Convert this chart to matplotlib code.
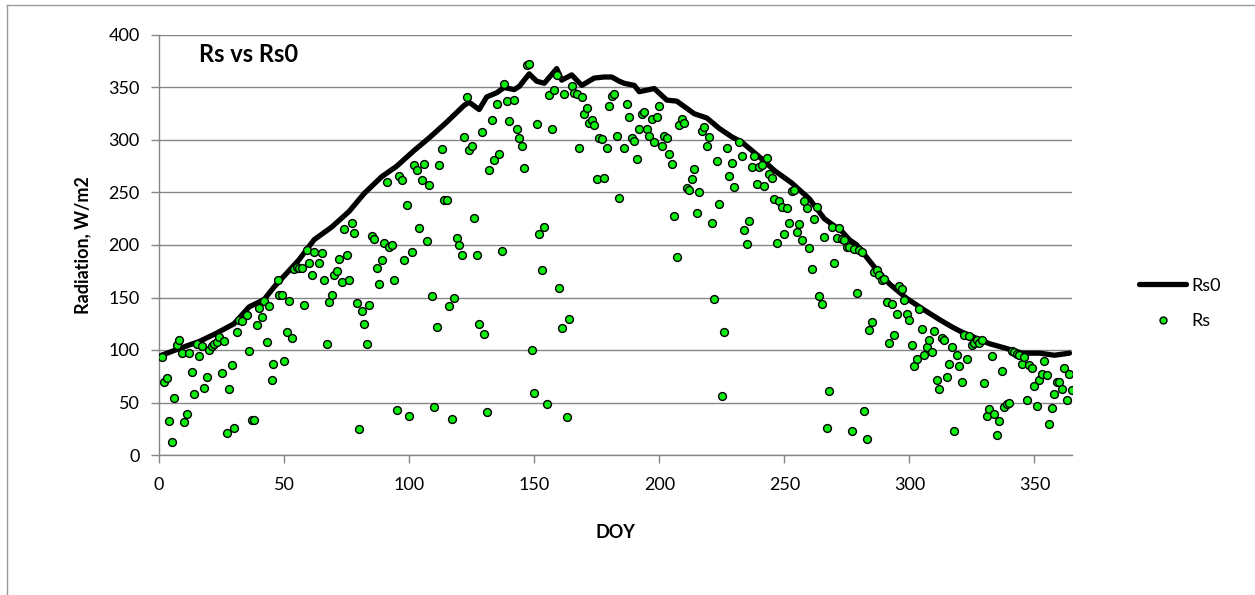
import matplotlib
matplotlib.use('Agg')
import matplotlib.pyplot as plt
from matplotlib.lines import Line2D
import numpy as np

plt.rcParams['font.family'] = ['Lato', 'DejaVu Sans']

# ── Rs0 (clear-sky radiation) read at nodes along the curve ──
rs0_doy = [1, 10, 16, 23, 30, 36, 42, 46, 56, 62, 69, 76, 82, 89, 95, 102, 108, 115,
           122, 124, 128, 131, 135, 138, 142, 144, 148, 151, 154, 159, 161, 165, 169,
           174, 178, 181, 184, 186, 190, 192, 198, 203, 207, 214, 219, 224, 229, 233,
           240, 246, 253, 260, 266, 273, 276, 279, 286, 292, 299, 306, 312, 317, 321,
           325, 332, 338, 345, 352, 358, 364]
rs0_val = [95, 103, 108, 116, 125, 141, 148, 160, 186, 205, 217, 232, 249, 265, 275, 290, 302, 317,
           333, 336, 329, 341, 345, 350, 348, 351, 363, 356, 354, 368, 357, 362, 352,
           359, 360, 360, 356, 354, 352, 346, 349, 338, 337, 325, 321, 311, 303, 298,
           284, 271, 259, 244, 225, 213, 205, 200, 179, 163, 149, 138, 129, 122, 117,
           113, 106, 102, 97, 97, 95, 97]

# ── Rs (measured radiation) ──
rs_doy = [1, 2, 3, 4, 5, 6, 7, 8, 9, 10, 11, 12, 13, 14, 15, 16, 17, 18, 19, 20,
          21, 22, 23, 24, 25, 26, 27, 28, 29, 30, 31, 32, 33, 35, 36, 37, 38, 39, 40, 41,
          42, 43, 44, 45, 45.5, 47.5, 48, 49, 50, 51, 52, 53, 54, 55, 56, 57, 58, 59, 60, 61,
          62, 64, 65, 66, 67, 68, 69, 70, 71, 72, 73, 74, 75, 76, 77, 78, 79, 80, 81, 82,
          83, 84, 85, 86, 87, 88, 89, 90, 91, 92, 93, 94, 95, 96, 97, 98, 99, 100, 101, 102,
          103, 104, 105, 106, 107, 108, 109, 110, 111, 112, 113, 114, 115, 116, 117, 118, 119, 120, 121, 122,
          123, 124, 125, 126, 127, 128, 129, 130, 131, 132, 133, 134, 135, 136, 137, 138, 139, 140, 142, 143,
          144, 145, 146, 147, 148, 149, 150, 151, 152, 153, 154, 155, 156, 157, 158, 159, 160, 161, 162, 163,
          164, 165, 166, 167, 168, 169, 170, 171, 172, 173, 174, 175, 176, 177, 178, 179, 180, 181, 182, 183,
          184, 186, 187, 188, 189, 190, 191, 192, 193, 194, 195, 196, 197, 198, 199, 200, 201, 202, 203, 204,
          205, 206, 207, 208, 209, 210, 211, 212, 213, 214, 215, 216, 217, 218, 219, 220, 221, 222, 223, 224,
          225, 226, 227, 228, 229, 230, 232, 233, 234, 235, 236, 237, 238, 239, 240, 241, 242, 243, 244, 245,
          246, 247, 248, 249, 250, 251, 252, 253, 254, 255, 256, 257, 258, 259, 260, 261, 262, 263, 264, 265,
          266, 267, 268, 269, 270, 271, 272, 273, 274, 275, 276, 277, 278, 279, 280, 281, 282, 283, 284, 285,
          286, 287, 288, 289, 290, 291, 292, 293, 294, 295, 296, 297, 298, 299, 300, 301, 302, 303, 304, 305,
          306, 307, 308, 309, 310, 311, 312, 313, 314, 315, 316, 317, 318, 319, 320, 321, 322, 323, 324, 325,
          326, 327, 328, 329, 330, 331, 332, 333, 334, 335, 336, 337, 338, 339, 340, 341, 342, 343, 344, 345,
          346, 347, 348, 349, 350, 351, 352, 353, 354, 355, 356, 357, 358, 359, 360, 361, 362, 363, 364, 365]
rs_val = [93, 70, 73, 32, 12, 54, 105, 110, 97, 31, 39, 97, 79, 58, 106, 94, 104, 64, 74, 100,
          104, 106, 108, 112, 78, 109, 21, 63, 86, 26, 117, 129, 128, 133, 99, 33, 33, 124, 140, 131,
          147, 108, 142, 71, 87, 167, 152, 152, 90, 117, 147, 111, 177, 179, 178, 178, 143, 195, 183, 171,
          193, 183, 192, 167, 106, 146, 152, 171, 175, 187, 165, 215, 190, 167, 221, 211, 145, 25, 137, 125,
          106, 143, 209, 206, 178, 163, 186, 202, 260, 198, 200, 167, 43, 266, 262, 186, 238, 37, 193, 276,
          271, 216, 262, 277, 204, 257, 151, 46, 122, 276, 291, 243, 243, 142, 34, 150, 207, 200, 190, 303,
          341, 290, 294, 226, 190, 125, 308, 115, 41, 271, 319, 281, 334, 287, 194, 353, 337, 318, 338, 310,
          302, 294, 273, 371, 372, 100, 59, 315, 210, 176, 217, 49, 343, 310, 348, 362, 159, 121, 344, 36,
          130, 351, 345, 344, 292, 341, 325, 330, 316, 319, 314, 263, 302, 301, 264, 292, 332, 342, 344, 304,
          245, 292, 334, 322, 302, 299, 282, 310, 325, 327, 310, 304, 320, 298, 322, 332, 294, 304, 302, 287,
          277, 228, 189, 314, 320, 316, 254, 252, 263, 272, 230, 250, 309, 312, 294, 303, 221, 149, 280, 239,
          56, 117, 292, 266, 278, 255, 298, 285, 214, 201, 223, 274, 285, 258, 274, 276, 256, 283, 268, 264,
          244, 202, 242, 236, 210, 235, 221, 251, 252, 212, 220, 205, 242, 235, 197, 177, 225, 236, 151, 144,
          208, 26, 61, 217, 183, 207, 216, 206, 205, 198, 198, 23, 196, 154, 195, 193, 42, 15, 119, 127,
          174, 176, 171, 167, 168, 146, 107, 144, 114, 134, 161, 158, 148, 134, 129, 105, 85, 91, 139, 120,
          95, 103, 110, 98, 118, 71, 63, 111, 110, 74, 87, 103, 23, 95, 85, 70, 114, 91, 113, 105,
          107, 110, 107, 110, 69, 37, 44, 94, 39, 19, 32, 80, 46, 49, 50, 99, 98, 96, 95, 87,
          93, 52, 86, 83, 66, 47, 71, 77, 90, 76, 30, 45, 58, 70, 70, 63, 83, 52, 77, 62]

x_ticks = [0, 50, 100, 150, 200, 250, 300, 350]
y_ticks = [0, 50, 100, 150, 200, 250, 300, 350, 400]

fig = plt.figure(figsize=(12.55, 5.95), dpi=100)
ax = fig.add_axes([159 / 1255, 1 - 455 / 595, (1072 - 159) / 1255, 420 / 595])

grid_c = '#868686'
ax.plot(rs0_doy, rs0_val, color='black', lw=3.8, solid_joinstyle='round',
        solid_capstyle='round', zorder=3, label='Rs0')
ax.scatter(rs_doy, rs_val, s=32, facecolor='#11ee11', edgecolor='black',
           linewidths=1.0, zorder=4, label='Rs')

ax.set_xlim(0, 365)
ax.set_ylim(0, 400)
ax.set_xticks(x_ticks)
ax.set_yticks(y_ticks)
ax.yaxis.grid(True, color=grid_c, lw=1.0)
ax.set_axisbelow(True)
for s in ['top', 'right']:
    ax.spines[s].set_visible(False)
for s in ['left', 'bottom']:
    ax.spines[s].set_color(grid_c)
    ax.spines[s].set_linewidth(1.0)
ax.tick_params(axis='both', direction='out', length=6, width=1.0, color=grid_c,
               labelsize=13, labelcolor='black')
ax.tick_params(axis='x', pad=10)
ax.tick_params(axis='y', pad=8)

ax.set_xlabel('DOY', fontsize=13, fontweight='bold', labelpad=22)
ax.set_ylabel('Radiation, W/m2', fontsize=13, fontweight='bold', labelpad=12)
ax.text(0.044, 0.982, 'Rs vs Rs0', transform=ax.transAxes,
        fontsize=17, fontweight='bold', va='top', ha='left')

handles = [Line2D([], [], color='black', lw=3.8, solid_capstyle='round'),
           Line2D([], [], ls='none', marker='o', markersize=5, markerfacecolor='#11ee11',
                  markeredgecolor='black', markeredgewidth=1.0)]
fig.legend(handles, ['Rs0', 'Rs'], loc='center left', bbox_to_anchor=(0.895, 0.49),
           frameon=False, fontsize=13, handlelength=2.6, handletextpad=0.3,
           labelspacing=1.1)

# chart-area border
fig.add_artist(Line2D([7 / 1255, 7 / 1255], [0, 1 - 5 / 595], color='#9a9a9a', lw=1.0,
                      transform=fig.transFigure))
fig.add_artist(Line2D([7 / 1255, 1], [1 - 5 / 595, 1 - 5 / 595], color='#9a9a9a', lw=1.0,
                      transform=fig.transFigure))

plt.savefig('out.png', dpi=100)
plt.close()
